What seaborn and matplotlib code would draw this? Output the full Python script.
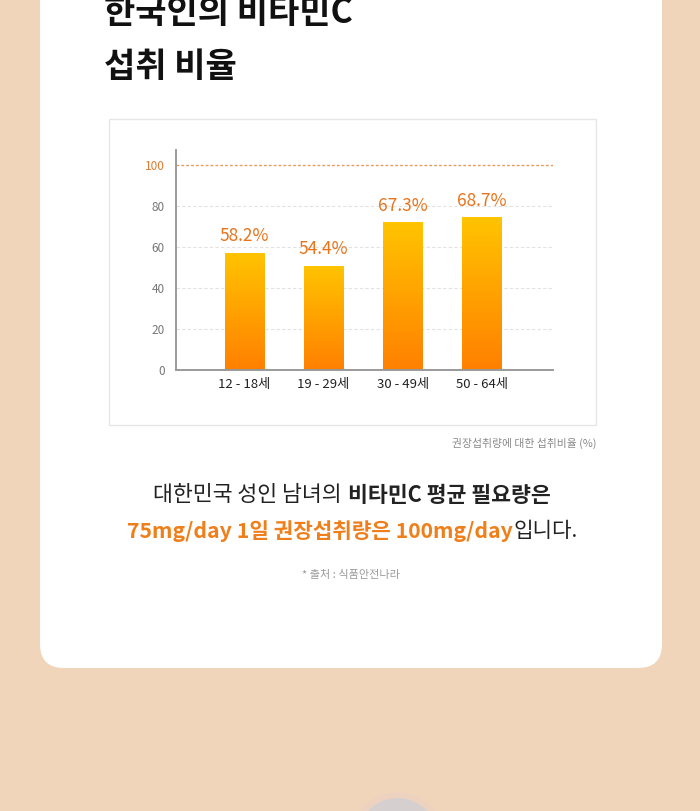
import numpy as np
import pandas as pd
import matplotlib.pyplot as plt
import seaborn as sns
from matplotlib.patches import FancyBboxPatch, Rectangle, Circle
from matplotlib.colors import LinearSegmentedColormap

# Data
age_groups = ["12 - 18세", "19 - 29세", "30 - 49세", "50 - 64세"]
bar_heights = [57.3, 51.0, 72.2, 74.8]      # drawn bar heights
value_labels = ["58.2%", "54.4%", "67.3%", "68.7%"]
y_ticks = [0, 20, 40, 60, 80, 100]

df = pd.DataFrame({"age": age_groups, "ratio": bar_heights})

sns.set_theme(style="white")
plt.rcParams['font.family'] = ['Noto Sans CJK KR', 'DejaVu Sans']

W, H = 700, 811
fig = plt.figure(figsize=(W / 100, H / 100), dpi=100)
fig.patch.set_facecolor("#F1D5BA")

# background layer in pixel coords
bg = fig.add_axes([0, 0, 1, 1])
bg.set_xlim(0, W)
bg.set_ylim(H, 0)
bg.axis("off")
bg.patch.set_alpha(0)

card = FancyBboxPatch((40, -60), 622, 728, boxstyle="round,pad=0,rounding_size=24",
                      facecolor="white", edgecolor="none")
bg.add_patch(card)
bg.add_patch(Circle((397.5, 838), 46, facecolor="#EBD3C3", edgecolor="none", alpha=0.6))
bg.add_patch(Circle((397.5, 838), 40, facecolor="#D5D0CF", edgecolor="none"))

# chart frame
bg.add_patch(Rectangle((109, 119), 487, 306, facecolor="white", edgecolor="#E6E6E6", lw=1))

# title (top line is cut by the page edge, as in the original)
bg.text(104, 13, "한국인의 비타민C", fontsize=24.5, fontweight="black", color="#111111",
        ha="left", va="center")
bg.text(104, 66, "섭취 비율", fontsize=24.5, fontweight="black", color="#111111",
        ha="left", va="center")

bg.text(596, 443, "권장섭취량에 대한 섭취비율 (%)", fontsize=7.8, color="#8A8A8A",
        ha="right", va="center")
bg.text(351, 575, "* 출처 : 식품안전나라", fontsize=8, color="#9A9A9A",
        ha="center", va="center")

renderer = fig.canvas.get_renderer()


def put_line(y, parts, cx=352, size=15.4):
    texts, gaps = [], []
    for s, w, c, g in parts:
        t = bg.text(0, y, s, fontsize=size, fontweight=w, color=c, ha="left", va="center")
        texts.append(t)
        gaps.append(g)
    widths = [t.get_window_extent(renderer).width for t in texts]
    total = sum(widths) + sum(gaps)
    x = cx - total / 2
    for t, wd, g in zip(texts, widths, gaps):
        x += g
        t.set_x(x)
        x += wd


dark = "#222222"
orange = "#EF7F1A"
put_line(495, [("대한민국 성인 남녀의", "normal", dark, 0),
               ("비타민C 평균 필요량은", "bold", dark, 6)], size=15.6)
put_line(531, [("75mg/day 1일 권장섭취량은 100mg/day", "bold", orange, 0),
               ("입니다.", "normal", dark, 0)], cx=352.5, size=15.3)

# bar chart
ax = fig.add_axes([176 / W, 1 - 370 / H, (553 - 176) / W, (370 - 150) / H])
ax.patch.set_alpha(0)
sns.barplot(data=df, x="age", y="ratio", ax=ax, width=0.5, color="#FF9900")
ax.set_xlim(-0.866, 3.9)
ax.set_ylim(0, 107.5)

grad = LinearSegmentedColormap.from_list("g", ["#FF8000", "#FFC400"])
img = np.linspace(0, 1, 256).reshape(-1, 1)
for p in ax.patches:
    x0, y0 = p.get_x(), p.get_y()
    w, h = p.get_width(), p.get_height()
    p.set_facecolor("none")
    p.set_edgecolor("none")
    im = ax.imshow(img, cmap=grad, aspect="auto", origin="lower",
                   extent=(x0, x0 + w, y0, y0 + h), zorder=2)
    im.set_clip_path(p)

for i, (hgt, lab) in enumerate(zip(bar_heights, value_labels)):
    ax.text(i, hgt + 8, lab, ha="center", va="center", fontsize=12.5,
            fontweight="medium", color="#E8731B")

ax.set_yticks(y_ticks)
ax.set_yticklabels([str(v) for v in y_ticks])
for v in y_ticks[1:-1]:
    ax.axhline(v, color="#E2E2E2", lw=0.8, ls=(0, (3, 2)), zorder=0)
ax.axhline(100, color="#E99A5E", lw=1.0, ls=(0, (2, 1.5)), zorder=0)

ax.tick_params(axis="y", length=0, pad=8, labelsize=8.5, labelcolor="#777777")
ax.tick_params(axis="x", length=0, pad=6, labelsize=9.5, labelcolor="#222222")
ax.get_yticklabels()[-1].set_color("#E07A30")
ax.set_xlabel("")
ax.set_ylabel("")
for s in ["top", "right"]:
    ax.spines[s].set_visible(False)
for s in ["left", "bottom"]:
    ax.spines[s].set_color("#9A9A9A")
    ax.spines[s].set_linewidth(1.4)

fig.savefig("out.png", dpi=100)
